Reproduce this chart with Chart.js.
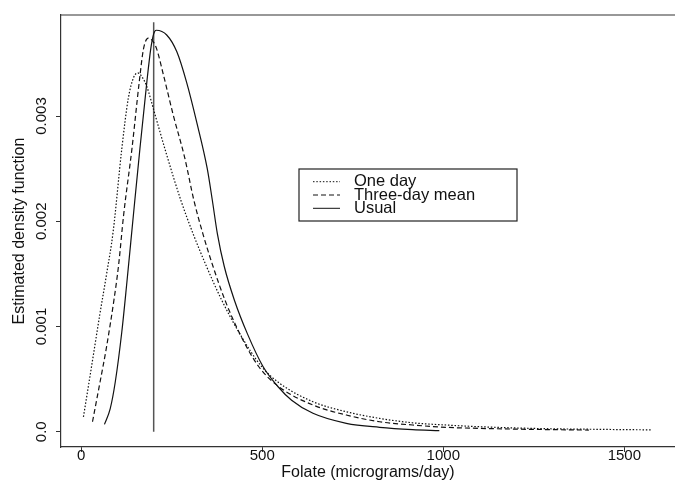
<!DOCTYPE html>
<html>
<head>
<meta charset="utf-8">
<script src="https://cdn.jsdelivr.net/npm/chart.js@4.4.0/dist/chart.umd.min.js"></script>
<style>
  html, body { margin: 0; padding: 0; background: #fff; }
  #wrap { width: 675px; height: 498px; position: relative; }
</style>
</head>
<body>
<div id="wrap"><canvas id="densityChart"></canvas></div>
<script>
// folate density estimates
const oneDayX = [6, 29, 51, 70, 88, 112, 130, 145, 156, 170, 181, 204, 236, 275, 309, 346, 388, 438, 498, 548, 640, 732, 824, 915, 1007, 1099, 1200, 1300, 1400, 1500, 1576];
const oneDayY = [0.000142, 0.000633, 0.00111, 0.0015, 0.0019, 0.00269, 0.00317, 0.00337, 0.00341, 0.00336, 0.00328, 0.00301, 0.00263, 0.0022, 0.00188, 0.00157, 0.00125, 0.00093, 0.00062, 0.00046, 0.000285, 0.00019, 0.000127, 0.000085, 0.000064, 0.000048, 0.000036, 0.000028, 0.000024, 0.00002, 0.000018];

const threeDayX = [31, 52, 69, 91, 103, 117, 140, 160, 172, 185, 198, 208, 227, 254, 286, 311, 336, 364, 397, 438, 490, 545, 640, 732, 824, 915, 1007, 1100, 1200, 1300, 1402];
const threeDayY = [0.000095, 0.000475, 0.00079, 0.00127, 0.00158, 0.00206, 0.00269, 0.00332, 0.00364, 0.00374, 0.00371, 0.00364, 0.00339, 0.00301, 0.0026, 0.0022, 0.00188, 0.00157, 0.00125, 0.00093, 0.00062, 0.00043, 0.000254, 0.000159, 0.000095, 0.000064, 0.000042, 0.000032, 0.000025, 0.00002, 0.000016];

const usualX = [64, 80, 94, 112, 126, 144, 162, 181, 192, 200, 207, 236, 264, 291, 319, 348, 362, 376, 395, 423, 459, 502, 543, 581, 640, 732, 824, 915, 989];
const usualY = [0.00007, 0.00022, 0.000475, 0.00095, 0.00142, 0.00206, 0.00269, 0.00332, 0.00364, 0.00378, 0.003815, 0.00377, 0.00361, 0.00332, 0.00294, 0.0025, 0.0022, 0.00188, 0.00157, 0.00125, 0.00093, 0.00062, 0.00043, 0.0003, 0.000175, 0.00008, 0.000042, 0.00002, 0.00001];

// vertical reference line
const refLineX = [200, 200];
const refLineY = [0, 0.00389];

const seriesNames = ["One day", "Three-day mean", "Usual"];
const xTicks = [0, 500, 1000, 1500];
const yTicks = [0, 0.001, 0.002, 0.003];
const yTickLabels = ["0.0", "0.001", "0.002", "0.003"];

const FONT = "'Liberation Sans', Arial, Helvetica, sans-serif";
const INK = "#111";

function toPoints(xs, ys) {
  return xs.map((x, i) => ({ x: x, y: ys[i] }));
}

// top frame line, rotated y tick labels, inset legend
const framePlugin = {
  id: "frame",
  afterDraw(chart) {
    const ctx = chart.ctx;
    const area = chart.chartArea;
    const yScale = chart.scales.y;
    ctx.save();
    ctx.strokeStyle = "#333";
    ctx.lineWidth = 1.2;
    ctx.beginPath();
    ctx.moveTo(area.left, area.top);
    ctx.lineTo(area.right, area.top);
    ctx.stroke();

    // y tick labels, rotated like R's las=0
    ctx.fillStyle = INK;
    ctx.font = "15px " + FONT;
    ctx.textAlign = "center";
    ctx.textBaseline = "middle";
    yTicks.forEach((v, i) => {
      const py = yScale.getPixelForValue(v);
      ctx.save();
      ctx.translate(area.left - 19.5, py);
      ctx.rotate(-Math.PI / 2);
      ctx.fillText(yTickLabels[i], 0, 0);
      ctx.restore();
    });

    // legend box
    const bx = 299, by = 169, bw = 218, bh = 52;
    ctx.strokeStyle = "#222";
    ctx.lineWidth = 1.2;
    ctx.strokeRect(bx, by, bw, bh);
    ctx.font = "16.5px " + FONT;
    ctx.textAlign = "left";
    const rows = [181.7, 195, 208.3];
    chart.data.datasets.slice(0, 3).forEach((ds, i) => {
      ctx.strokeStyle = ds.borderColor;
      ctx.lineWidth = 1;
      ctx.setLineDash(ds.borderDash || []);
      ctx.beginPath();
      ctx.moveTo(bx + 14, rows[i]);
      ctx.lineTo(bx + 41, rows[i]);
      ctx.stroke();
      ctx.setLineDash([]);
      ctx.fillText(ds.label, bx + 55, rows[i]);
    });
    ctx.restore();
  }
};

const baseLine = {
  fill: false,
  pointRadius: 0,
  borderWidth: 1.2,
  cubicInterpolationMode: "monotone"
};

new Chart(document.getElementById("densityChart").getContext("2d"), {
  type: "line",
  data: {
    datasets: [
      Object.assign({}, baseLine, {
        label: seriesNames[0],
        data: toPoints(oneDayX, oneDayY),
        borderColor: INK,
        borderDash: [1.5, 1.8]
      }),
      Object.assign({}, baseLine, {
        label: seriesNames[1],
        data: toPoints(threeDayX, threeDayY),
        borderColor: INK,
        borderDash: [5, 3]
      }),
      Object.assign({}, baseLine, {
        label: seriesNames[2],
        data: toPoints(usualX, usualY),
        borderColor: INK
      }),
      {
        label: "ref",
        data: toPoints(refLineX, refLineY),
        borderColor: "#555",
        borderWidth: 1.5,
        pointRadius: 0,
        fill: false
      }
    ]
  },
  options: {
    responsive: true,
    maintainAspectRatio: false,
    animation: false,
    layout: { padding: { top: 15, left: 0, right: 0, bottom: 0 } },
    plugins: {
      legend: { display: false },
      tooltip: { enabled: false }
    },
    scales: {
      x: {
        type: "linear",
        min: -56,
        max: 1640,
        afterFit: (scale) => { scale.height = 51; },
        afterBuildTicks: (scale) => { scale.ticks = xTicks.map(v => ({ value: v })); },
        border: { display: true, color: "#333", width: 1.2 },
        grid: { display: true, drawOnChartArea: false, drawTicks: true, tickLength: 5, color: "#333", lineWidth: 1 },
        ticks: {
          color: INK,
          font: { family: FONT, size: 15 },
          padding: -5,
          maxRotation: 0,
          autoSkip: false,
          callback: (v) => String(v)
        },
        title: {
          display: true,
          text: "Folate (micrograms/day)",
          color: INK,
          font: { family: FONT, size: 16 },
          padding: { top: 0, bottom: 16 }
        }
      },
      y: {
        min: -0.000145,
        max: 0.00396,
        afterFit: (scale) => { scale.width = 61; },
        afterBuildTicks: (scale) => { scale.ticks = yTicks.map(v => ({ value: v })); },
        border: { display: true, color: "#333", width: 1.2 },
        grid: { display: true, drawOnChartArea: false, drawTicks: true, tickLength: 5, color: "#333", lineWidth: 1 },
        ticks: { display: false },
        title: {
          display: true,
          text: "Estimated density function",
          color: INK,
          font: { family: FONT, size: 16 },
          padding: { top: 10, bottom: 0 }
        }
      }
    }
  },
  plugins: [framePlugin]
});
</script>
</body>
</html>
